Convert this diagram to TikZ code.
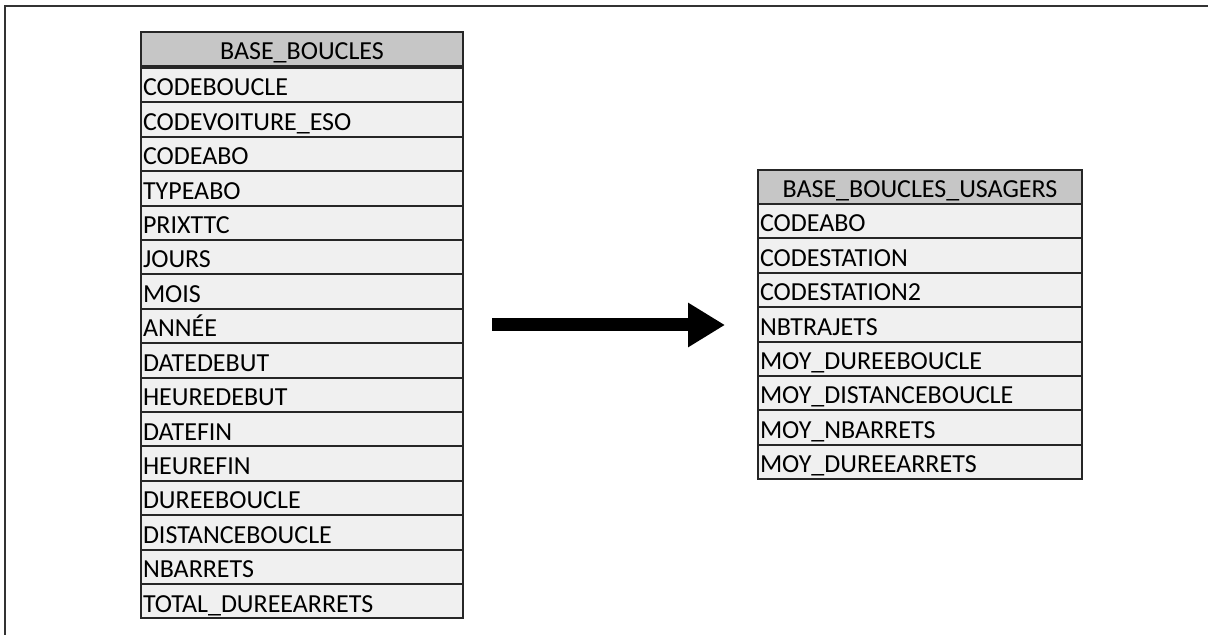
\documentclass[tikz,border=0pt]{standalone}
\usepackage{fontspec}
\setmainfont{Carlito}
\usetikzlibrary{arrows.meta}
\tikzset{
  cell/.style={draw=black!85, line width=1pt, outer sep=0pt, inner sep=0pt,
    minimum height=17.2pt, text height=10.8pt, text depth=0pt,
    font=\fontsize{13}{15}\selectfont},
  tblhead/.style={cell, fill=gray!45, align=center},
  tblrow/.style={cell, fill=gray!12, align=left, inner xsep=1pt}
}
\begin{document}
\begin{tikzpicture}[x=0.5pt,y=-0.5pt]
 \useasboundingbox (0,0) rectangle (1208,635);
 % frame
 \draw[line width=1pt, black!80] (5,650) -- (5,6.5) -- (1220,6.5);
 % left table
 \node[tblhead, anchor=north west, minimum width=161pt] (bbhead) at (141,32) {BASE\_BOUCLES};
 \foreach \name [count=\i] in {CODEBOUCLE, CODEVOITURE\_ESO, CODEABO, TYPEABO,
   PRIXTTC, JOURS, MOIS, ANNÉE, DATEDEBUT, HEUREDEBUT, DATEFIN, HEUREFIN,
   DUREEBOUCLE, DISTANCEBOUCLE, NBARRETS, TOTAL\_DUREEARRETS}
  \node[tblrow, anchor=north west, text width=159pt] (bb\i) at (141,{68+(\i-1)*34.4}) {\name};
 % right table
 \node[tblhead, anchor=north west, minimum width=162pt] (buhead) at (758,170) {BASE\_BOUCLES\_USAGERS};
 \foreach \name [count=\i] in {CODEABO, CODESTATION, CODESTATION2, NBTRAJETS,
   MOY\_DUREEBOUCLE, MOY\_DISTANCEBOUCLE, MOY\_NBARRETS, MOY\_DUREEARRETS}
  \node[tblrow, anchor=north west, text width=160pt] (bu\i) at (758,{204+(\i-1)*34.4}) {\name};
 % arrow
 \coordinate (from) at (492,325);
 \coordinate (to) at (725,325);
 \draw[line width=6.5pt, -{Triangle[length=18.5pt,width=21pt]}] (from) -- (to);
\end{tikzpicture}
\end{document}
